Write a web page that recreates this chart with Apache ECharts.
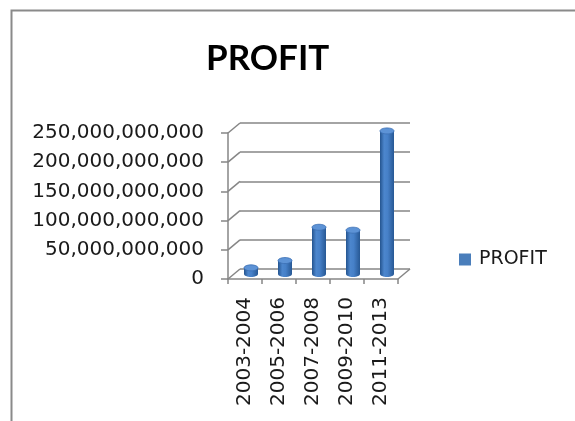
<!DOCTYPE html>
<html>
<head>
<meta charset="utf-8">
<script src="https://cdn.jsdelivr.net/npm/echarts@6/dist/echarts.min.js"></script>
<style>
    html, body { margin: 0; padding: 0; background: #fff; }
    #chart { width: 575px; height: 421px; }
</style>
</head>
<body>
<div id="chart"></div>
<script>
// data
const periods = ['2003-2004', '2005-2006', '2007-2008', '2009-2010', '2011-2013']
const profit = [10.5e9, 23e9, 80e9, 75e9, 245e9]
const yTicks = [0, 50e9, 100e9, 150e9, 200e9, 250e9]

const axisGrey = '#868686'
const font = 'DejaVu Sans'
// 3d depth offset of the back wall, in px
const depth = [12, -10]

const chart = echarts.init(document.getElementById('chart'))

// side wall diagonals + floor edge, drawn from the front axis scale
function renderWalls(params, api) {
    const band = api.size([1, 0])[0]
    const kind = api.value(1)
    let p
    if (kind === 0) {
        p = api.coord([0, api.value(0)])
        p = [p[0] - band / 2, p[1]]
    } else {
        p = api.coord([periods.length - 1, 0])
        p = [p[0] + band / 2, p[1]]
    }
    return {
        type: 'line',
        shape: {x1: p[0], y1: p[1], x2: p[0] + depth[0], y2: p[1] + depth[1]},
        style: {stroke: axisGrey, lineWidth: 1.5}
    }
}

function renderCylinder(params, api) {
    const top = api.coord([api.value(0), api.value(1)])
    const base = api.coord([api.value(0), 0])
    const w = 14, ry = 3
    const x = top[0] - w / 2
    const body = new echarts.graphic.LinearGradient(0, 0, 1, 0, [
        {offset: 0, color: '#24548f'},
        {offset: 0.3, color: '#4c86cd'},
        {offset: 0.55, color: '#4680c8'},
        {offset: 1, color: '#275894'}
    ])
    return {
        type: 'group',
        children: [
            {type: 'ellipse', shape: {cx: top[0], cy: base[1], rx: w / 2, ry: ry}, style: {fill: body}},
            {type: 'rect', shape: {x: x, y: top[1], width: w, height: base[1] - top[1]}, style: {fill: body}},
            {type: 'ellipse', shape: {cx: top[0], cy: top[1], rx: w / 2, ry: ry},
                style: {fill: '#5d93d6', stroke: '#3b6fb2', lineWidth: 0.8}}
        ]
    }
}

const valueAxis = {
    type: 'value', min: 0, max: 250e9, interval: 50e9
}

chart.setOption({
    animation: false,
    graphic: [{
        type: 'rect', left: 9, top: 8, silent: true,
        shape: {width: 620, height: 450},
        style: {fill: 'none', stroke: '#8a8a8a', lineWidth: 2}
    }],
    title: {
        text: 'PROFIT',
        left: 201, top: 36,
        textStyle: {fontFamily: 'Lato', fontWeight: 'bold', fontSize: 35, color: '#000'}
    },
    legend: {
        left: 459, top: 250, padding: 0,
        itemWidth: 12, itemHeight: 12, itemGap: 10,
        icon: 'rect',
        data: [{name: 'PROFIT', itemStyle: {color: '#4a7ebb'}}],
        textStyle: {fontFamily: font, fontSize: 19, color: '#1a1a1a', padding: [0, 0, 0, 3]}
    },
    grid: [
        // front plane: axes and labels
        {left: 228, top: 133, width: 170, height: 146},
        // back wall
        {left: 228 + depth[0], top: 133 + depth[1], width: 170, height: 146},
        // middle plane where the cylinders stand
        {left: 234, top: 128, width: 170, height: 146}
    ],
    xAxis: [
        {
            gridIndex: 0, type: 'category', data: periods,
            axisLine: {lineStyle: {color: axisGrey, width: 1.5}},
            axisTick: {show: true, length: 5, lineStyle: {color: axisGrey, width: 1.5}},
            axisLabel: {rotate: 90, margin: 18, fontFamily: font, fontSize: 20, color: '#1a1a1a'}
        },
        {gridIndex: 1, type: 'category', data: periods, show: false},
        {gridIndex: 2, type: 'category', data: periods, show: false}
    ],
    yAxis: [
        Object.assign({}, valueAxis, {
            gridIndex: 0,
            axisLine: {show: true, lineStyle: {color: axisGrey, width: 1.5}},
            axisTick: {show: true, length: 7, lineStyle: {color: axisGrey, width: 1.5}},
            splitLine: {show: false},
            axisLabel: {
                margin: 24, fontFamily: font, fontSize: 20, color: '#1a1a1a',
                formatter: v => v.toLocaleString('en-US')
            }
        }),
        Object.assign({}, valueAxis, {
            gridIndex: 1,
            axisLine: {show: false}, axisTick: {show: false}, axisLabel: {show: false},
            splitLine: {show: true, lineStyle: {color: axisGrey, width: 1.5}}
        }),
        Object.assign({}, valueAxis, {gridIndex: 2, show: false, splitLine: {show: false}})
    ],
    series: [
        {
            type: 'custom', name: 'walls', xAxisIndex: 0, yAxisIndex: 0,
            silent: true,
            data: yTicks.map(v => [v, 0]).concat([[0, 1]]),
            renderItem: renderWalls
        },
        {
            type: 'custom', name: 'PROFIT', xAxisIndex: 2, yAxisIndex: 2,
            itemStyle: {color: '#4a7ebb'},
            data: profit.map((v, i) => [i, v]),
            renderItem: renderCylinder
        }
    ]
})
</script>
</body>
</html>
